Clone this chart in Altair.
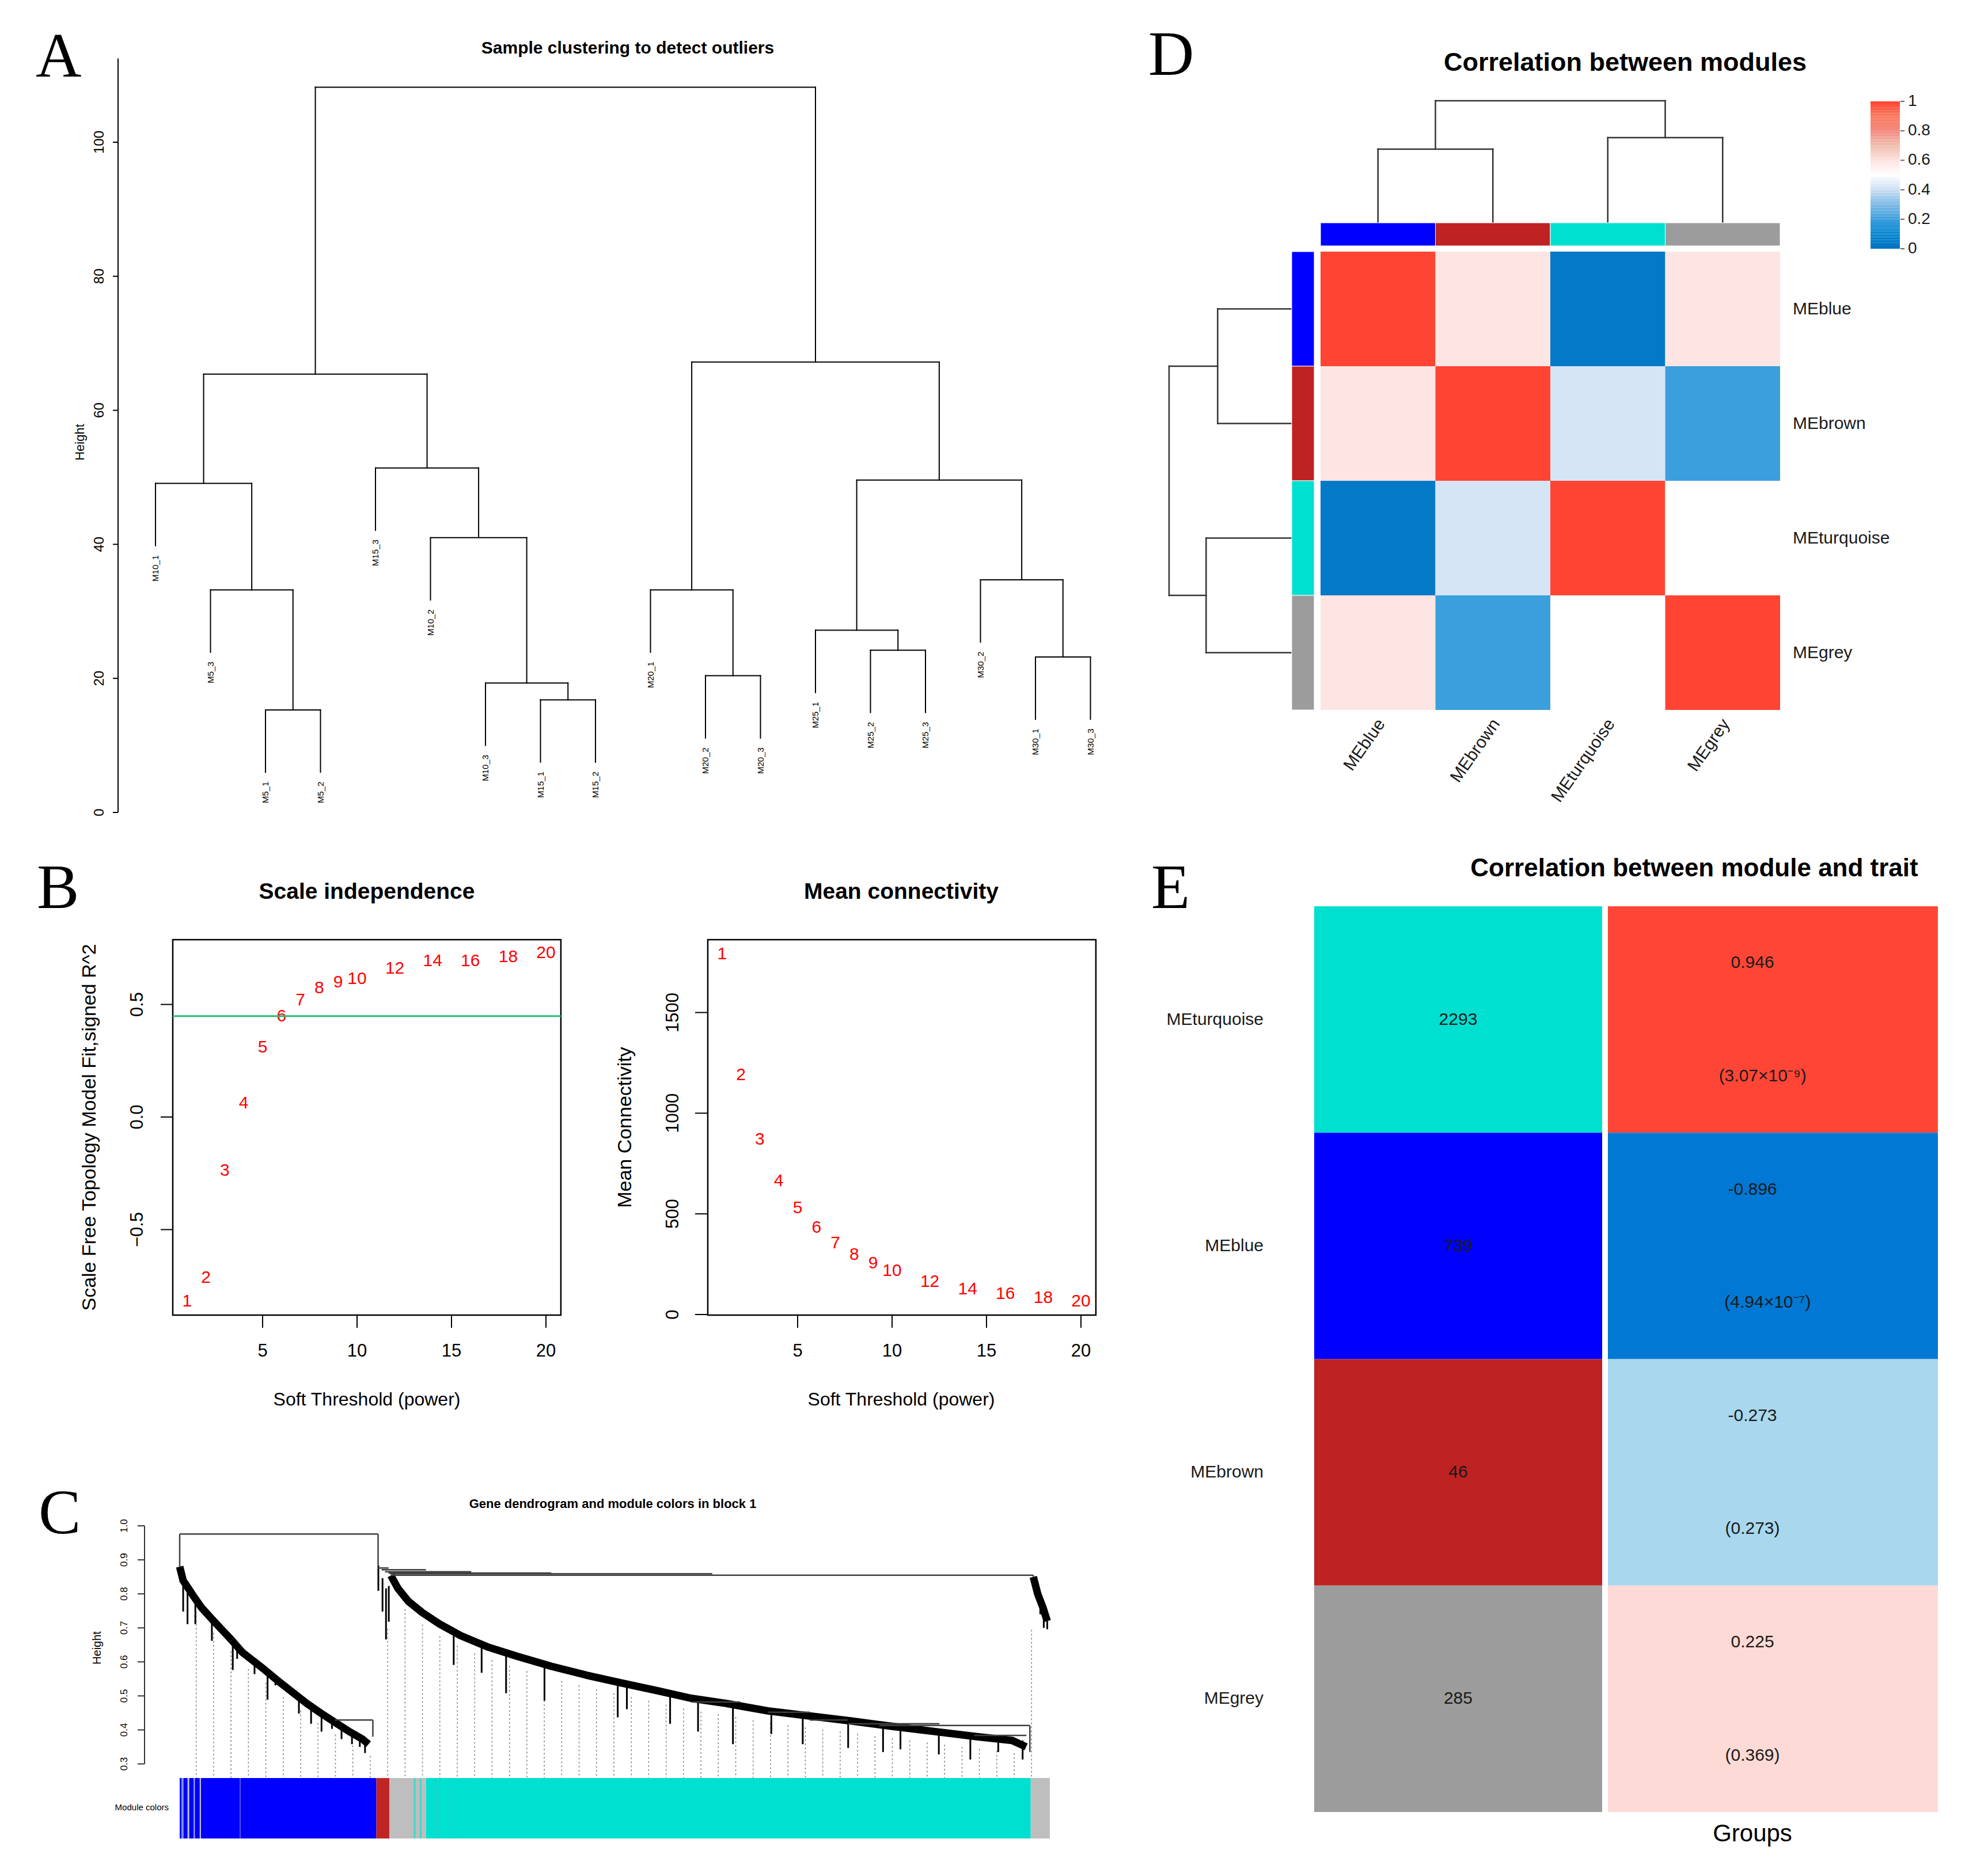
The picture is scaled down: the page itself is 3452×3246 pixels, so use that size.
import altair as alt
import pandas as pd
import numpy as np

OFF = 8
W, H = 3436, 3230
SANS = "Liberation Sans"
SERIF = "Liberation Serif"

# ------------------------------------------------------------------ data
# Panel A: sample dendrogram
A_leaves = ["M10_1", "M5_3", "M5_1", "M5_2", "M15_3", "M10_2", "M10_3", "M15_1", "M15_2",
            "M20_1", "M20_2", "M20_3", "M25_1", "M25_2", "M25_3", "M30_2", "M30_1", "M30_3"]
A_tree = ((("M10_1", ("M5_3", ("M5_1", "M5_2", 15.3), 33.2), 49.1),
           ("M15_3", ("M10_2", ("M10_3", ("M15_1", "M15_2", 16.8), 19.3), 41.0), 51.4), 65.4),
          (("M20_1", ("M20_2", "M20_3", 20.4), 33.2),
           (("M25_1", ("M25_2", "M25_3", 24.2), 27.2),
            ("M30_2", ("M30_1", "M30_3", 23.2), 34.7), 49.6), 67.2), 108.2)
A_hang = 9.3
A_ticks = [0, 20, 40, 60, 80, 100]

# Panel B: soft threshold
B_power = [1, 2, 3, 4, 5, 6, 7, 8, 9, 10, 12, 14, 16, 18, 20]
B_sft = [-0.818, -0.713, -0.238, 0.062, 0.309, 0.448, 0.519, 0.573, 0.598, 0.614,
         0.660, 0.693, 0.693, 0.711, 0.728]
B_k = [1789, 1191, 869, 664, 530, 433, 356, 298, 254, 216, 164, 126, 103, 83, 66]
B_cut = 0.448
B_xticks = [5, 10, 15, 20]
B1_yticks = [-0.5, 0.0, 0.5]
B1_ylabels = ["\u22120.5", "0.0", "0.5"]
B2_yticks = [0, 500, 1000, 1500]

# Panel C: gene dendrogram (x = % of ordered genes, y = height)
C_band_blue = [(0.0, 0.880), (0.4, 0.839), (1.0, 0.816), (1.6, 0.793), (2.5, 0.760), (3.7, 0.726),
               (4.8, 0.696), (5.9, 0.666), (7.2, 0.628), (8.7, 0.598), (9.8, 0.576), (11.6, 0.538),
               (13.1, 0.508), (14.6, 0.478), (16.3, 0.448), (18.1, 0.418), (19.5, 0.395),
               (21.0, 0.373), (21.7, 0.358)]
C_band_turq = [(24.27, 0.854), (25.08, 0.816), (26.28, 0.778), (27.88, 0.745), (29.89, 0.711),
               (32.30, 0.677), (35.50, 0.643), (38.71, 0.617), (42.72, 0.587), (46.73, 0.561),
               (50.75, 0.538), (54.76, 0.516), (58.77, 0.493), (62.78, 0.478), (67.59, 0.456),
               (72.40, 0.441), (77.22, 0.426), (82.03, 0.410), (86.84, 0.395), (91.66, 0.380),
               (95.67, 0.369), (97.27, 0.350)]
C_band_grey = [(98.1, 0.850), (98.6, 0.800), (99.2, 0.760), (99.7, 0.720)]
C_spikes = [(0.4, 0.839, 0.748), (0.9, 0.820, 0.711), (1.8, 0.790, 0.711), (3.7, 0.726, 0.662),
            (6.1, 0.655, 0.576), (6.6, 0.645, 0.609), (8.6, 0.600, 0.564), (10.1, 0.570, 0.489),
            (11.0, 0.550, 0.531), (13.7, 0.497, 0.448), (15.1, 0.470, 0.418), (16.3, 0.448, 0.395),
            (17.5, 0.428, 0.403), (18.6, 0.410, 0.373), (19.8, 0.392, 0.358), (20.7, 0.378, 0.350),
            (21.3, 0.368, 0.332),
            (22.83, 0.884, 0.809), (23.31, 0.846, 0.748), (23.71, 0.816, 0.666), (24.03, 0.823, 0.718),
            (31.49, 0.685, 0.591), (34.70, 0.651, 0.568), (37.51, 0.625, 0.508), (41.92, 0.591, 0.486),
            (50.34, 0.534, 0.437), (51.39, 0.531, 0.461), (56.36, 0.504, 0.418), (59.57, 0.489, 0.395),
            (63.58, 0.474, 0.358), (67.99, 0.456, 0.388), (71.6, 0.437, 0.358), (76.82, 0.426, 0.347),
            (80.83, 0.414, 0.335), (82.83, 0.410, 0.343), (87.24, 0.399, 0.328), (90.86, 0.384, 0.313),
            (94.07, 0.377, 0.335), (96.87, 0.369, 0.313),
            (98.9, 0.790, 0.740), (99.3, 0.760, 0.700), (99.7, 0.720, 0.696)]
C_merge_h = [(0.0, 22.8, 0.976), (22.8, 24.0, 0.876), (23.2, 28.3, 0.871), (23.6, 33.5, 0.865),
             (24.0, 42.7, 0.861), (24.2, 61.2, 0.859), (24.3, 98.1, 0.855), (17.8, 22.2, 0.429),
             (58.8, 64.4, 0.482), (67.6, 72.4, 0.452), (72.4, 76.8, 0.429), (76.8, 87.3, 0.418),
             (80.4, 97.7, 0.413), (91.3, 97.3, 0.384)]
C_merge_v = [(0.0, 0.976, 0.880), (22.8, 0.976, 0.884), (98.1, 0.855, 0.850), (22.2, 0.429, 0.380),
             (24.3, 0.855, 0.854), (97.7, 0.413, 0.335)]
C_modules = [(0.0, 22.6, "#0000FF"), (22.6, 24.1, "#C02525"), (24.1, 28.3, "#BEBEBE"),
             (28.3, 97.8, "#00E0D0"), (97.8, 100.0, "#BEBEBE")]
C_stripes = [(0.2, 0.45, "#7F8FD8"), (0.9, 1.1, "#BEBEBE"), (1.6, 1.75, "#9FA8E8"),
             (2.3, 2.45, "#BEBEBE"), (6.9, 7.0, "#6C6CE0"), (26.9, 27.1, "#40D8C8"),
             (27.6, 27.8, "#40D8C8"), (29.5, 29.6, "#30C8C0"), (31.2, 31.3, "#30C8C0")]
C_guides = [round(1.9 + 2.0 * k, 2) for k in range(49)]
C_ticks = [0.3, 0.4, 0.5, 0.6, 0.7, 0.8, 0.9, 1.0]

# Panel D: module eigengene correlation
D_modules = ["MEblue", "MEbrown", "MEturquoise", "MEgrey"]
D_colors = ["#0000FF", "#BE2222", "#00E0D0", "#9C9C9C"]
D_corr = [[1.00, 0.59, 0.03, 0.59],
          [0.59, 1.00, 0.42, 0.20],
          [0.03, 0.42, 1.00, 0.50],
          [0.59, 0.20, 0.50, 1.00]]
D_tree = (("MEblue", "MEbrown", 0.604), ("MEturquoise", "MEgrey", 0.698), 1.0)
D_stops = [0, 0.1, 0.2, 0.3, 0.4, 0.5, 0.6, 0.7, 0.8, 0.9, 1.0]
D_palette = ["#0072C2", "#0C88D2", "#3C9FDD", "#80BCE7", "#CCDFF2", "#FFFFFF",
             "#FCE2E0", "#F0C0B0", "#F48A80", "#F97A5E", "#FF4433"]
D_leg_ticks = [0, 0.2, 0.4, 0.6, 0.8, 1.0]
D_leg_labels = ["0", "0.2", "0.4", "0.6", "0.8", "1"]

# Panel E: module-trait
E_modules = ["MEturquoise", "MEblue", "MEbrown", "MEgrey"]
E_sizes = ["2293", "739", "46", "285"]
E_mod_colors = ["#00E0D0", "#0000FF", "#BE2222", "#9C9C9C"]
E_cor = ["0.946", "-0.896", "-0.273", "0.225"]
E_p = ["(3.07\u00d710\u207b\u2079)", "(4.94\u00d710\u207b\u2077)", "(0.273)", "(0.369)"]
E_cor_colors = ["#FF4636", "#0078D4", "#A8D7EE", "#FDDAD6"]

# ------------------------------------------------------------------ helpers
def sc(domain, p0, p1):
    return alt.Scale(domain=list(domain), range=[p0 - OFF, p1 - OFF], zero=False, nice=False)


def px(p):
    return alt.value(p - OFF)


def label(text, x, y, size, weight="normal", font=SANS, angle=0, align="center",
          baseline="middle", color="black"):
    return alt.Chart(pd.DataFrame({"t": [text]})).mark_text(
        font=font, fontSize=size, fontWeight=weight, angle=angle, align=align,
        baseline=baseline, color=color).encode(x=px(x), y=px(y), text="t:N")


def segs(df, xs, ys, xf="x0", x2f="x1", yf="y0", y2f="y1", **mk):
    return alt.Chart(df).mark_rule(**mk).encode(
        x=alt.X(f"{xf}:Q", scale=xs, axis=None), x2=f"{x2f}:Q",
        y=alt.Y(f"{yf}:Q", scale=ys, axis=None), y2=f"{y2f}:Q")


def dendro(tree, leaf_pos, drop):
    out, leaves = [], []

    def rec(node, parent_h):
        if isinstance(node, str):
            b = parent_h - drop if drop is not None else 0.0
            leaves.append((node, leaf_pos[node], b))
            return leaf_pos[node], b
        l, r, h = node
        xl, hl = rec(l, h)
        xr, hr = rec(r, h)
        out.append((xl, xr, h, h))
        out.append((xl, xl, hl, h))
        out.append((xr, xr, hr, h))
        return (xl + xr) / 2.0, h

    rec(tree, None)
    return (pd.DataFrame(out, columns=["x0", "x1", "y0", "y1"]),
            pd.DataFrame(leaves, columns=["name", "x", "bottom"]))


L = []

# panel letters
for letter, x, y in [("A", 62, 133), ("B", 64, 1577), ("C", 67, 2663), ("D", 1994, 130), ("E", 1999, 1577)]:
    L.append(label(letter, x, y, 110, font=SERIF, align="left", baseline="alphabetic"))

# ------------------------------------------------------------------ Panel A
xsA = sc([1, 18], 270, 1893.5)
ysA = sc([0, 100], 1411, 247)
dfA, leavesA = dendro(A_tree, {n: i + 1 for i, n in enumerate(A_leaves)}, A_hang)
L.append(segs(dfA, xsA, ysA, color="black", strokeWidth=2, strokeCap="square"))
leavesA["ly"] = leavesA["bottom"] - 1.4
L.append(alt.Chart(leavesA).mark_text(font=SANS, fontSize=15, angle=270, align="right",
                                      baseline="middle").encode(
    x=alt.X("x:Q", scale=xsA, axis=None), y=alt.Y("ly:Q", scale=ysA, axis=None), text="name:N"))
L.append(alt.Chart(pd.DataFrame({"y0": [0], "y1": [112.5]})).mark_rule(color="black", strokeWidth=2).encode(
    x=px(205), y=alt.Y("y0:Q", scale=ysA, axis=None), y2="y1:Q"))
dfAt = pd.DataFrame({"t": A_ticks, "lab": [str(t) for t in A_ticks]})
L.append(alt.Chart(dfAt).mark_rule(color="black", strokeWidth=2).encode(
    x=px(196), x2=px(205), y=alt.Y("t:Q", scale=ysA, axis=None)))
L.append(alt.Chart(dfAt).mark_text(font=SANS, fontSize=24, angle=270, align="center", baseline="middle").encode(
    x=px(173), y=alt.Y("t:Q", scale=ysA, axis=None), text="lab:N"))
L.append(label("Height", 139, 768, 22, angle=270))
L.append(label("Sample clustering to detect outliers", 1090, 84, 30, "bold"))

# ------------------------------------------------------------------ Panel B
dfB = pd.DataFrame({"p": B_power, "lab": [str(p) for p in B_power], "sft": B_sft, "k": B_k})
dfBx = pd.DataFrame({"t": B_xticks, "lab": [str(t) for t in B_xticks]})


def b_panel(xs, ys, ycol, box_y, yticks, ylabels, tick_x0, lab_x, cx, title, ytitle, ytitle_x):
    out = []
    out.append(alt.Chart(pd.DataFrame({"x0": [0.244], "x1": [20.79], "y0": [box_y[0]], "y1": [box_y[1]]}))
               .mark_rect(fillOpacity=0, stroke="black", strokeWidth=2.5).encode(
        x=alt.X("x0:Q", scale=xs, axis=None), x2="x1:Q",
        y=alt.Y("y0:Q", scale=ys, axis=None), y2="y1:Q"))
    dyt = pd.DataFrame({"t": yticks, "lab": ylabels})
    out.append(alt.Chart(dyt).mark_rule(color="black", strokeWidth=2).encode(
        x=px(tick_x0), x2=px(tick_x0 + 21), y=alt.Y("t:Q", scale=ys, axis=None)))
    out.append(alt.Chart(dyt).mark_text(font=SANS, fontSize=31, angle=270, baseline="middle").encode(
        x=px(lab_x), y=alt.Y("t:Q", scale=ys, axis=None), text="lab:N"))
    out.append(alt.Chart(dfBx).mark_rule(color="black", strokeWidth=2).encode(
        y=px(2284), y2=px(2306), x=alt.X("t:Q", scale=xs, axis=None)))
    out.append(alt.Chart(dfBx).mark_text(font=SANS, fontSize=31, baseline="middle").encode(
        y=px(2347), x=alt.X("t:Q", scale=xs, axis=None), text="lab:N"))
    out.append(alt.Chart(dfB).mark_text(font=SANS, fontSize=30, color="#FF0000", baseline="middle").encode(
        x=alt.X("p:Q", scale=xs, axis=None), y=alt.Y(f"{ycol}:Q", scale=ys, axis=None), text="lab:N"))
    out.append(label(title, cx, 1549, 39, "bold"))
    out.append(label("Soft Threshold (power)", cx, 2431, 32))
    out.append(label(ytitle, ytitle_x, 1958, 34, angle=270))
    return out


xsB1 = sc([5, 20], 456, 948)
ysB1 = sc([0, 0.5], 1940, 1744.5)
L += b_panel(xsB1, ysB1, "sft", (-0.88, 0.788), B1_yticks, B1_ylabels, 279, 239, 637,
             "Scale independence", "Scale Free Topology Model Fit,signed R^2", 156)
L.append(alt.Chart(pd.DataFrame({"x0": [0.244], "x1": [20.79], "y": [B_cut]})).mark_rule(
    color="#20C070", strokeWidth=3).encode(
    x=alt.X("x0:Q", scale=xsB1, axis=None), x2="x1:Q", y=alt.Y("y:Q", scale=ysB1, axis=None)))

xsB2 = sc([5, 20], 1385, 1877)
ysB2 = sc([0, 1500], 2283, 1758.5)
L += b_panel(xsB2, ysB2, "k", (-3, 1862), B2_yticks, [str(t) for t in B2_yticks], 1207, 1169, 1565,
             "Mean connectivity", "Mean Connectivity", 1086)

# ------------------------------------------------------------------ Panel C
xsC = sc([0, 100], 312, 1823)
ysC = sc([0.3, 1.0], 3063.5, 2650)
ysCbar = sc([0, 1], 3193, 3088)

band_all = C_band_blue + [(22.4, 0.36), (22.8, 0.80), (24.1, 0.72)] + C_band_turq + C_band_grey
bx = [p[0] for p in band_all]
bv = [p[1] for p in band_all]
dfG = pd.DataFrame({"x": C_guides})
dfG["top"] = np.interp(dfG["x"], bx, bv) - 0.035
dfG["bot"] = 0.259
L.append(alt.Chart(dfG).mark_rule(color="#808080", strokeWidth=1.5, strokeDash=[3, 4]).encode(
    x=alt.X("x:Q", scale=xsC, axis=None), y=alt.Y("top:Q", scale=ysC, axis=None), y2="bot:Q"))

rows = []
for name, band in [("blue", C_band_blue), ("turq", C_band_turq), ("grey", C_band_grey)]:
    for x, v in band:
        rows.append((name, x, v))
dfBand = pd.DataFrame(rows, columns=["grp", "x", "v"])
L.append(alt.Chart(dfBand).mark_line(color="black", strokeWidth=13, strokeJoin="round").encode(
    x=alt.X("x:Q", scale=xsC, axis=None), y=alt.Y("v:Q", scale=ysC, axis=None), detail="grp:N"))
dfSp = pd.DataFrame(C_spikes, columns=["x", "top", "bot"])
L.append(alt.Chart(dfSp).mark_rule(color="black", strokeWidth=3).encode(
    x=alt.X("x:Q", scale=xsC, axis=None), y=alt.Y("top:Q", scale=ysC, axis=None), y2="bot:Q"))
dfMh = pd.DataFrame(C_merge_h, columns=["x0", "x1", "v"])
L.append(alt.Chart(dfMh).mark_rule(color="#404040", strokeWidth=2.5).encode(
    x=alt.X("x0:Q", scale=xsC, axis=None), x2="x1:Q", y=alt.Y("v:Q", scale=ysC, axis=None)))
dfMv = pd.DataFrame(C_merge_v, columns=["x", "v0", "v1"])
L.append(alt.Chart(dfMv).mark_rule(color="#404040", strokeWidth=2.5).encode(
    x=alt.X("x:Q", scale=xsC, axis=None), y=alt.Y("v0:Q", scale=ysC, axis=None), y2="v1:Q"))

dfMod = pd.DataFrame(C_modules + C_stripes, columns=["g0", "g1", "col"])
dfMod["b0"] = 0.0
dfMod["b1"] = 1.0
L.append(alt.Chart(dfMod).mark_rect().encode(
    x=alt.X("g0:Q", scale=xsC, axis=None), x2="g1:Q",
    y=alt.Y("b0:Q", scale=ysCbar, axis=None), y2="b1:Q",
    color=alt.Color("col:N", scale=None)))

L.append(alt.Chart(pd.DataFrame({"y0": [0.3], "y1": [1.0]})).mark_rule(color="#333", strokeWidth=2).encode(
    x=px(251), y=alt.Y("y0:Q", scale=ysC, axis=None), y2="y1:Q"))
dfCt = pd.DataFrame({"t": C_ticks, "lab": [f"{t:.1f}" for t in C_ticks]})
L.append(alt.Chart(dfCt).mark_rule(color="#333", strokeWidth=2).encode(
    x=px(239), x2=px(251), y=alt.Y("t:Q", scale=ysC, axis=None)))
L.append(alt.Chart(dfCt).mark_text(font=SANS, fontSize=17, angle=270, baseline="middle").encode(
    x=px(216), y=alt.Y("t:Q", scale=ysC, axis=None), text="lab:N"))
L.append(label("Height", 169, 2862, 20, angle=270))
L.append(label("Gene dendrogram and module colors in block 1", 1064, 2612, 22, "bold"))
L.append(label("Module colors", 293, 3139, 15, align="right"))

# ------------------------------------------------------------------ Panel D
xsD = sc([0, 4], 2293, 3091)
ysD = sc([0, 4], 437, 1233)
ysDtop = sc([0, 1], 387, 175)
xsDleft = sc([0, 1], 2243, 2030)
ysDbar = sc([0, 1], 427, 387)
xsDbar = sc([0, 1], 2243, 2282)
ysLeg = sc([0, 1], 432, 176)
dscale = alt.Scale(domain=D_stops, range=D_palette, interpolate="rgb")

cells = []
for i in range(4):
    for j in range(4):
        cells.append((j, j + 1, i, i + 1, D_corr[i][j]))
dfD = pd.DataFrame(cells, columns=["x0", "x1", "y0", "y1", "val"])
L.append(alt.Chart(dfD).mark_rect().encode(
    x=alt.X("x0:Q", scale=xsD, axis=None), x2="x1:Q",
    y=alt.Y("y0:Q", scale=ysD, axis=None), y2="y1:Q",
    color=alt.Color("val:Q", scale=dscale, legend=None)))

dfDs, _ = dendro(D_tree, {n: i + 0.5 for i, n in enumerate(D_modules)}, None)
L.append(segs(dfDs, xsD, ysDtop, color="#333333", strokeWidth=2.5, strokeCap="square"))
L.append(segs(dfDs, xsDleft, ysD, xf="y0", x2f="y1", yf="x0", y2f="x1",
              color="#333333", strokeWidth=2.5, strokeCap="square"))

dfDb = pd.DataFrame({"i0": [0, 1, 2, 3], "i1": [1, 2, 3, 4], "c0": 0.0, "c1": 1.0, "col": D_colors})
L.append(alt.Chart(dfDb).mark_rect(stroke="white", strokeWidth=1).encode(
    x=alt.X("i0:Q", scale=xsD, axis=None), x2="i1:Q",
    y=alt.Y("c0:Q", scale=ysDbar, axis=None), y2="c1:Q",
    color=alt.Color("col:N", scale=None)))
L.append(alt.Chart(dfDb).mark_rect(stroke="white", strokeWidth=1).encode(
    y=alt.Y("i0:Q", scale=ysD, axis=None), y2="i1:Q",
    x=alt.X("c0:Q", scale=xsDbar, axis=None), x2="c1:Q",
    color=alt.Color("col:N", scale=None)))

dfDl = pd.DataFrame({"name": D_modules, "pos": [0.5, 1.5, 2.5, 3.5], "cpos": [0.53, 1.53, 2.53, 3.53]})
L.append(alt.Chart(dfDl).mark_text(font=SANS, fontSize=30, align="left", baseline="middle", color="#1a1a1a").encode(
    x=px(3113), y=alt.Y("pos:Q", scale=ysD, axis=None), text="name:N"))
L.append(alt.Chart(dfDl).mark_text(font=SANS, fontSize=30, align="right", baseline="middle", angle=305,
                                   color="#1a1a1a").encode(
    x=alt.X("cpos:Q", scale=xsD, axis=None), y=px(1252), text="name:N"))

leg_v = [round(0.02 * k, 2) for k in range(50)]
dfLeg = pd.DataFrame({"v0": leg_v, "v1": [v + 0.02 for v in leg_v], "vm": [v + 0.01 for v in leg_v]})
L.append(alt.Chart(dfLeg).mark_rect().encode(
    x=px(3248), x2=px(3299), y=alt.Y("v0:Q", scale=ysLeg, axis=None), y2="v1:Q",
    color=alt.Color("vm:Q", scale=dscale, legend=None)))
dfLt = pd.DataFrame({"t": D_leg_ticks, "lab": D_leg_labels})
L.append(alt.Chart(dfLt).mark_rule(color="#666", strokeWidth=2).encode(
    x=px(3300), x2=px(3307), y=alt.Y("t:Q", scale=ysLeg, axis=None)))
L.append(alt.Chart(dfLt).mark_text(font=SANS, fontSize=28, align="left", baseline="middle", color="#1a1a1a").encode(
    x=px(3313), y=alt.Y("t:Q", scale=ysLeg, axis=None), text="lab:N"))
L.append(label("Correlation between modules", 2822, 109, 45, "bold"))

# ------------------------------------------------------------------ Panel E
xsE = sc([0, 1], 2282, 3365)
ysE = sc([0, 4], 1574, 3147)
dfE = pd.DataFrame({"r0": [0, 1, 2, 3], "r1": [1, 2, 3, 4], "rc": [0.5, 1.5, 2.5, 3.5],
                    "rt": [0.25, 1.25, 2.25, 3.25], "rp": [0.75, 1.75, 2.75, 3.75],
                    "name": E_modules, "size": E_sizes, "mcol": E_mod_colors,
                    "cor": E_cor, "p": E_p, "ccol": E_cor_colors,
                    "px": [0.719, 0.727, 0.7027, 0.7027]})
dfE["l0"] = 0.0
dfE["l1"] = 0.4617
dfE["q0"] = 0.4709
dfE["q1"] = 1.0
dfE["lc"] = 0.2308
dfE["qc"] = 0.7027
L.append(alt.Chart(dfE).mark_rect().encode(
    x=alt.X("l0:Q", scale=xsE, axis=None), x2="l1:Q",
    y=alt.Y("r0:Q", scale=ysE, axis=None), y2="r1:Q", color=alt.Color("mcol:N", scale=None)))
L.append(alt.Chart(dfE).mark_rect().encode(
    x=alt.X("q0:Q", scale=xsE, axis=None), x2="q1:Q",
    y=alt.Y("r0:Q", scale=ysE, axis=None), y2="r1:Q", color=alt.Color("ccol:N", scale=None)))
L.append(alt.Chart(dfE).mark_text(font=SANS, fontSize=30, baseline="middle", color="#1a1a1a").encode(
    x=alt.X("lc:Q", scale=xsE, axis=None), y=alt.Y("rc:Q", scale=ysE, axis=None), text="size:N"))
L.append(alt.Chart(dfE).mark_text(font=SANS, fontSize=30, baseline="middle", color="#1a1a1a").encode(
    x=alt.X("qc:Q", scale=xsE, axis=None), y=alt.Y("rt:Q", scale=ysE, axis=None), text="cor:N"))
L.append(alt.Chart(dfE).mark_text(font=SANS, fontSize=30, baseline="middle", color="#1a1a1a").encode(
    x=alt.X("px:Q", scale=xsE, axis=None), y=alt.Y("rp:Q", scale=ysE, axis=None), text="p:N"))
L.append(alt.Chart(dfE).mark_text(font=SANS, fontSize=30, align="right", baseline="middle", color="#1a1a1a").encode(
    x=px(2194), y=alt.Y("rc:Q", scale=ysE, axis=None), text="name:N"))
L.append(label("Groups", 3043, 3185, 42))
L.append(label("Correlation between module and trait", 2942, 1509, 44, "bold"))

chart = alt.layer(*L).resolve_scale(
    x="independent", y="independent", color="independent"
).properties(
    width=W, height=H, autosize=alt.AutoSizeParams(type="none"), padding=0, background="white"
).configure_view(stroke="transparent")

chart.save("out.html", embed_options={"renderer": "svg", "actions": False})
